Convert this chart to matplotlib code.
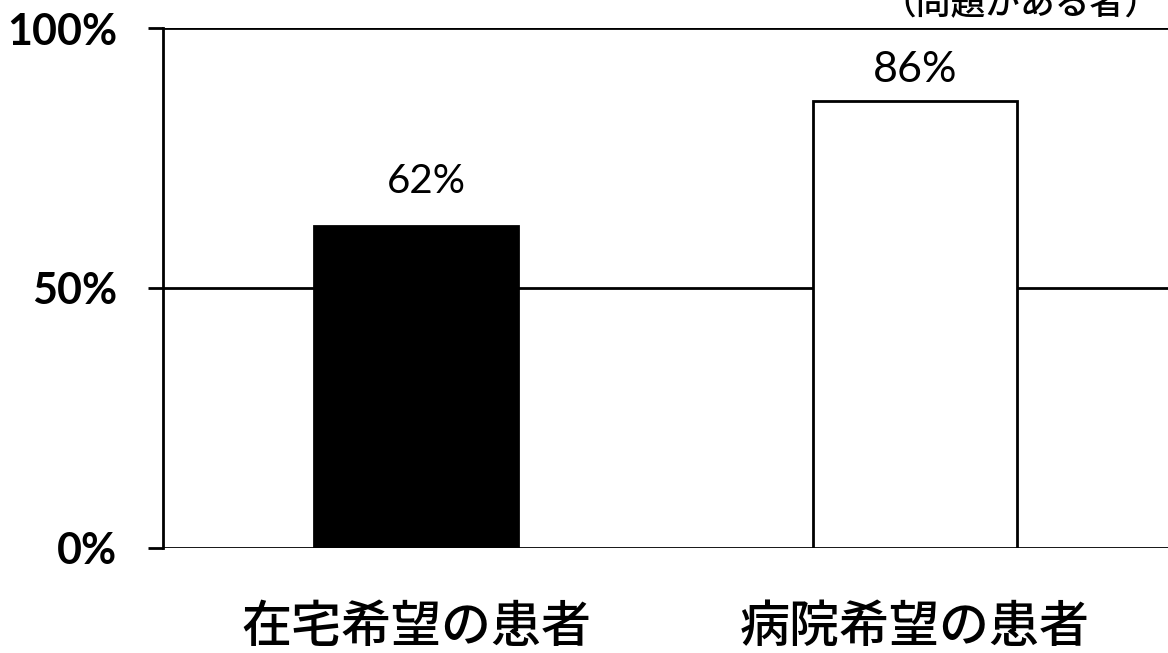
import numpy as np
import matplotlib
matplotlib.use('Agg')
import matplotlib.pyplot as plt

# data
categories = ['在宅希望の患者', '病院希望の患者']
values = [62, 86]
tick_vals = [0, 50, 100]
tick_labels = ['0%', '50%', '100%']
note = '（問題がある者）'

plt.rcParams['font.family'] = ['Lato', 'Noto Sans CJK JP', 'DejaVu Sans']

fig = plt.figure(figsize=(11.68, 6.53), dpi=100)
ax = fig.add_axes([0.1396, 0.161, 0.8604, 0.796])

x = np.arange(len(categories))
bars = ax.bar(x, values, width=0.41, color=['black', 'white'],
              edgecolor='black', linewidth=2, zorder=3)

# grid lines at 0/50/100
for v in tick_vals:
    ax.axhline(v, color='black', linewidth=2, zorder=1)

# label offsets differ a bit in the original
lbl_dx = [0.02, 0.0]
lbl_dy = [5, 2.3]
lbl_fs = [29, 31]
for b, v, dx, dy, fs in zip(bars, values, lbl_dx, lbl_dy, lbl_fs):
    ax.text(b.get_x() + b.get_width() / 2 + dx, v + dy, f'{v}%',
            ha='center', va='bottom', fontsize=fs, family=['Lato', 'DejaVu Sans'])

ax.set_xlim(-0.507, 1.507)
ax.set_ylim(0, 100)
ax.set_yticks(tick_vals)
ax.set_yticklabels(tick_labels, fontsize=31, fontweight='bold',
                   family=['Lato', 'DejaVu Sans'])
ax.tick_params(axis='y', length=11, width=2, pad=22)
ax.set_xticks(x)
ax.set_xticklabels(categories, fontsize=36, fontweight='medium',
                   family=['Noto Sans CJK JP', 'DejaVu Sans'])
ax.tick_params(axis='x', length=0, pad=40)

for s in ['top', 'right', 'bottom']:
    ax.spines[s].set_visible(False)
ax.spines['left'].set_linewidth(2)

fig.text(0.993, 1 - 22 / 653, note, ha='right', va='bottom', fontsize=25,
         family=['Noto Sans CJK JP', 'DejaVu Sans'], fontweight='medium')

fig.savefig('out.png', dpi=100)
